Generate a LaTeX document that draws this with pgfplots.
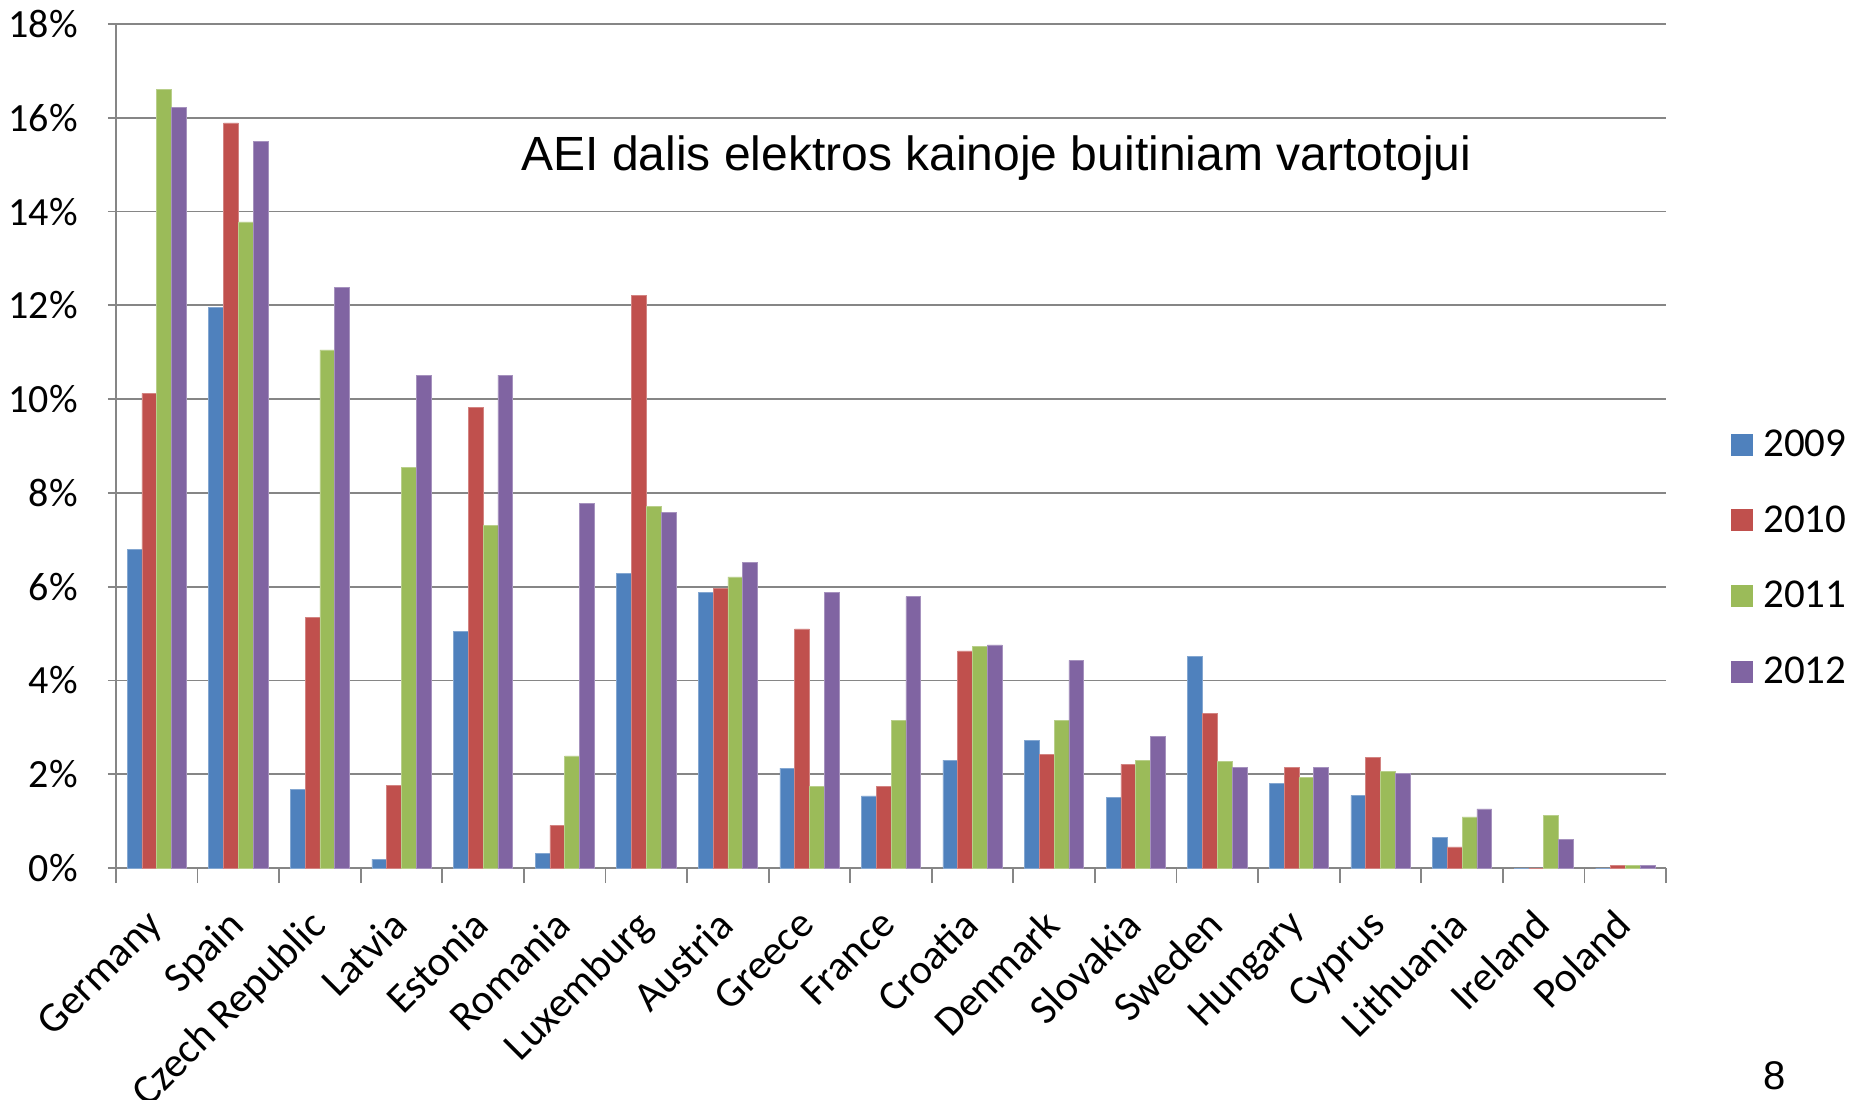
\documentclass[border=0pt]{standalone}
\usepackage{pgfplots}
\usepackage{pgfplotstable}
\pgfplotsset{compat=1.18}
\usepackage{fontspec}
\setmainfont{Carlito}
\newfontfamily\arialfont{Liberation Sans}
\definecolor{c1}{HTML}{4F81BD}
\definecolor{c2}{HTML}{C0504D}
\definecolor{c3}{HTML}{9BBB59}
\definecolor{c4}{HTML}{8064A2}
\definecolor{gridgray}{RGB}{134,134,134}
\pgfplotstableread{
x y09 y10 y11 y12
0 6.79 10.12 16.60 16.22
1 11.95 15.89 13.78 15.49
2 1.67 5.35 11.05 12.38
3 0.19 1.76 8.54 10.51
4 5.05 9.82 7.31 10.51
5 0.31 0.91 2.39 7.78
6 6.28 12.21 7.72 7.59
7 5.87 5.97 6.21 6.51
8 2.13 5.10 1.74 5.87
9 1.54 1.74 3.15 5.79
10 2.30 4.63 4.72 4.76
11 2.73 2.43 3.15 4.43
12 1.50 2.21 2.30 2.81
13 4.52 3.29 2.28 2.14
14 1.80 2.14 1.93 2.14
15 1.55 2.36 2.06 2.01
16 0.66 0.45 1.09 1.26
17 0 0 1.12 0.61
18 0 0.06 0.06 0.06
}\data
\begin{document}
\begin{tikzpicture}
\begin{axis}[
  name=ax,
  scale only axis,
  width=775pt, height=422pt,
  ybar=0pt, bar width=7.4pt,
  xmin=-0.5, xmax=18.5, ymin=0, ymax=18,
  axis lines*=left,
  axis line style={draw=gridgray, line width=0.9pt, -},
  ymajorgrids,
  grid style={draw=gridgray, line width=0.9pt},
  tick align=outside,
  tick style={draw=gridgray, line width=0.9pt},
  major tick length=4pt,
  minor tick length=7.5pt,
  xtick={0,...,18},
  major x tick style={draw=none},
  minor xtick={-0.5,0.5,...,18.5},
  xticklabels={Germany,Spain,Czech Republic,Latvia,Estonia,Romania,Luxemburg,Austria,Greece,France,Croatia,Denmark,Slovakia,Sweden,Hungary,Cyprus,Lithuania,Ireland,Poland},
  xticklabel style={rotate=45, anchor=north east, inner sep=0pt, xshift=-15.4pt, yshift=-6.6pt, font=\fontsize{21}{25}\selectfont},
  ytick={0,2,...,18},
  yticklabels={0\%,2\%,4\%,6\%,8\%,10\%,12\%,14\%,16\%,18\%},
  yticklabel style={font=\fontsize{20}{24}\selectfont, inner sep=2pt, xshift=-13pt},
  legend style={at={(rel axis cs:1.038,0.367)}, anchor=west, draw=none, fill=none,
    font=\fontsize{20.5}{24}\selectfont, row sep=19pt,
    nodes={inner xsep=5pt}},
  legend cell align=left,
  legend image code/.code={\fill[#1,draw=none] (0pt,-5.5pt) rectangle (11pt,5.5pt);},
]
\addplot[fill=c1, draw=c1!70!white, line width=0.3pt] table[x=x,y=y09]{\data};
\addplot[fill=c2, draw=c2!70!white, line width=0.3pt] table[x=x,y=y10]{\data};
\addplot[fill=c3, draw=c3!70!white, line width=0.3pt] table[x=x,y=y11]{\data};
\addplot[fill=c4, draw=c4!70!white, line width=0.3pt] table[x=x,y=y12]{\data};
\legend{2009,2010,2011,2012}
\node[font=\arialfont\fontsize{24}{28}\selectfont] at (rel axis cs:0.568,0.841) {AEI dalis elektros kainoje buitiniam vartotojui};
\end{axis}
\node[font=\arialfont\fontsize{20}{24}\selectfont] at ([shift={(829.5pt,-104pt)}]ax.south west) {8};
\pgfresetboundingbox
\path[use as bounding box] ([shift={(-58pt,-115.5pt)}]ax.south west) rectangle ([shift={(873pt,434pt)}]ax.south west);
\end{tikzpicture}
\end{document}
